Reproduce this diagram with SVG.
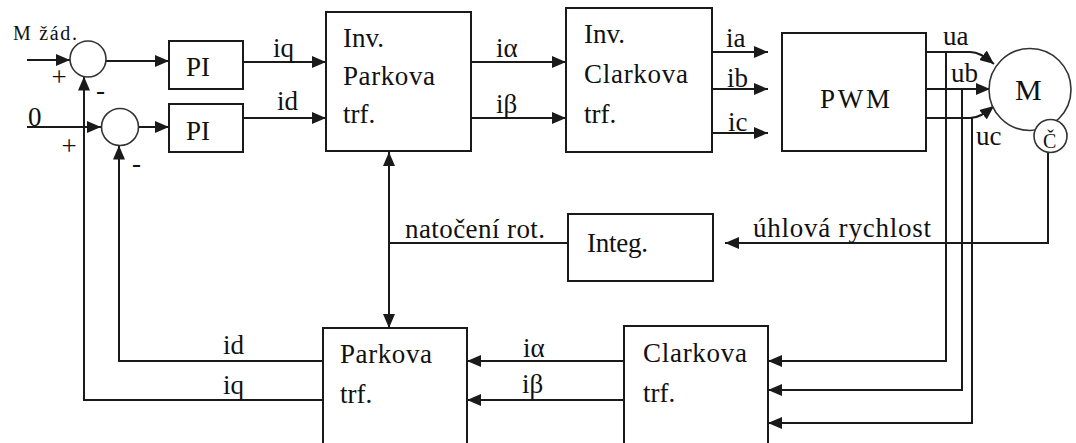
<svg xmlns="http://www.w3.org/2000/svg" width="1076" height="443" viewBox="0 0 1076 443">
  <style>
    .box { fill: #ffffff; stroke: #1a1a1a; stroke-width: 2; }
    .sum { fill: #ffffff; stroke: #333333; stroke-width: 1.6; }
    .ln { fill: none; stroke: #1a1a1a; stroke-width: 2; }
    .arr { fill: none; stroke: #1a1a1a; stroke-width: 2; marker-end: url(#ah); }
    text { font-family: "Liberation Serif", "Times New Roman", serif; font-size: 27px; fill: #111111; }
    .sm { font-size: 20px; }
    .big { font-size: 30px; }
  </style>
  <defs>
    <marker id="ah" markerUnits="userSpaceOnUse" markerWidth="14" markerHeight="12" refX="14" refY="6" orient="auto" viewBox="0 0 14 12">
      <path d="M0,0 L14,6 L0,12 z" fill="#1a1a1a"/>
    </marker>
  </defs>

  <g id="connectors">
    <path class="arr" d="M27,60 H70"/>
    <path class="arr" d="M106,61 H169"/>
    <path class="arr" d="M243,62 H326"/>
    <path class="arr" d="M27,127 H101"/>
    <path class="arr" d="M139,127 H169"/>
    <path class="arr" d="M243,118 H326"/>
    <path class="arr" d="M471,62 H566"/>
    <path class="arr" d="M471,118 H566"/>
    <path class="arr" d="M712,52 H768"/>
    <path class="arr" d="M712,89 H768"/>
    <path class="arr" d="M712,133 H768"/>
    <path class="arr" d="M926,52 H970 C978,52 984,56 994,64"/>
    <path class="arr" d="M926,89 H990"/>
    <path class="arr" d="M926,118 H970 C978,118 984,114 994,106"/>
    <path class="arr" d="M946,52 V361 H768"/>
    <path class="arr" d="M962,89 V390 H768"/>
    <path class="arr" d="M972,118 V423 H768"/>
    <path class="arr" d="M1048,153 V243 H725"/>
    <path class="ln" d="M568,243 H389"/>
    <path class="arr" d="M389,243 V152"/>
    <path class="arr" d="M389,243 V328"/>
    <path class="arr" d="M624,361 H467"/>
    <path class="arr" d="M624,400 H467"/>
    <path class="arr" d="M323,361 H119 V145.5"/>
    <path class="arr" d="M323,400 H84 V76.5"/>
  </g>

  <g id="labels">
    <text class="sm" x="13" y="40" textLength="64" lengthAdjust="spacing">M žád.</text>
    <text x="59" y="86" text-anchor="middle">+</text>
    <text x="100.5" y="99" text-anchor="middle">-</text>
    <text x="28" y="126">0</text>
    <text x="69" y="155" text-anchor="middle">+</text>
    <text x="136.5" y="172" text-anchor="middle">-</text>
    <text x="273" y="57">iq</text>
    <text x="277" y="110">id</text>
    <text x="496" y="57">iα</text>
    <text x="496" y="113">iβ</text>
    <text x="726" y="47">ia</text>
    <text x="727" y="87">ib</text>
    <text x="728" y="131">ic</text>
    <text x="943" y="45">ua</text>
    <text x="951" y="82">ub</text>
    <text x="976" y="145">uc</text>
    <text x="405" y="238" textLength="140" lengthAdjust="spacing">natočení rot.</text>
    <text x="753" y="237" textLength="178" lengthAdjust="spacing">úhlová rychlost</text>
    <text x="223" y="354">id</text>
    <text x="223" y="394">iq</text>
    <text x="523" y="357">iα</text>
    <text x="522" y="393">iβ</text>
  </g>

  <g id="sum1"><circle class="sum" cx="88" cy="59" r="18"/></g>
  <g id="sum2"><circle class="sum" cx="120" cy="127" r="18.5"/></g>

  <g id="pi1">
    <rect class="box" x="169" y="41" width="74" height="48"/>
    <text x="186" y="76">PI</text>
  </g>
  <g id="pi2">
    <rect class="box" x="169" y="104" width="74" height="48"/>
    <text x="186" y="140">PI</text>
  </g>

  <g id="inv-parkova">
    <rect class="box" x="326" y="12" width="145" height="139"/>
    <text x="343" y="47">Inv.</text>
    <text x="343" y="85" textLength="92" lengthAdjust="spacing">Parkova</text>
    <text x="343" y="123">trf.</text>
  </g>

  <g id="inv-clarkova">
    <rect class="box" x="566" y="8" width="146" height="144"/>
    <text x="584" y="43">Inv.</text>
    <text x="584" y="83" textLength="104" lengthAdjust="spacing">Clarkova</text>
    <text x="584" y="123">trf.</text>
  </g>

  <g id="pwm">
    <rect class="box" x="782" y="33" width="144" height="118"/>
    <text x="820" y="108" textLength="70" lengthAdjust="spacing">PWM</text>
  </g>

  <g id="motor">
    <circle class="sum" cx="1030" cy="89.5" r="41"/>
    <text class="big" x="1015" y="100">M</text>
  </g>
  <g id="sensor">
    <circle class="sum" cx="1050.5" cy="136" r="16.5"/>
    <text class="sm" x="1043" y="148">Č</text>
  </g>

  <g id="integ">
    <rect class="box" x="568" y="214" width="145" height="67"/>
    <text x="587" y="252" textLength="61" lengthAdjust="spacing">Integ.</text>
  </g>

  <g id="parkova">
    <rect class="box" x="323" y="328" width="144" height="130"/>
    <text x="340" y="363" textLength="92" lengthAdjust="spacing">Parkova</text>
    <text x="340" y="403">trf.</text>
  </g>

  <g id="clarkova">
    <rect class="box" x="624" y="326" width="144" height="132"/>
    <text x="643" y="362" textLength="104" lengthAdjust="spacing">Clarkova</text>
    <text x="643" y="402">trf.</text>
  </g>
</svg>
